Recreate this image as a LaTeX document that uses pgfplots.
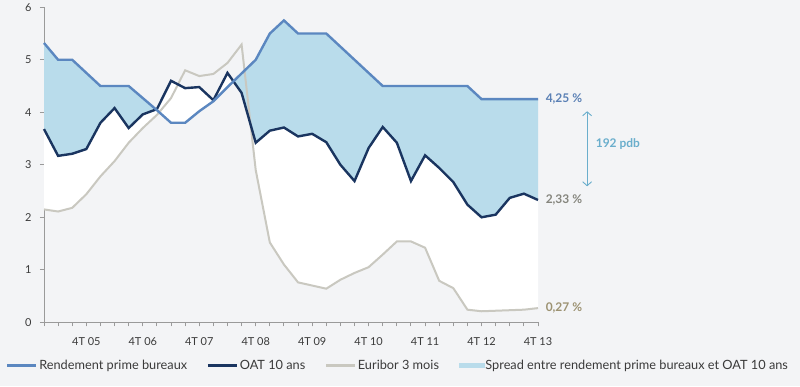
\documentclass[border=0pt]{standalone}
\usepackage{pgfplots}
\pgfplotsset{compat=1.18}
\usepackage{pgfplotstable}
\usepgfplotslibrary{fillbetween}
\usetikzlibrary{arrows.meta}
\usepackage{fontspec}
\setmainfont{Lato}
\definecolor{bgc}{HTML}{F3F4F6}
\definecolor{rendc}{HTML}{5B87C0}
\definecolor{oatc}{HTML}{1A3560}
\definecolor{eurc}{HTML}{C9C8C0}
\definecolor{spreadc}{HTML}{B9DCEB}
\definecolor{axc}{HTML}{9A9A9A}
\definecolor{txtc}{HTML}{3A3A3A}
\definecolor{labA}{HTML}{5A80B5}
\definecolor{labB}{HTML}{85857D}
\definecolor{labC}{HTML}{9C9272}
\definecolor{arrc}{HTML}{6AAECC}
\pagecolor{bgc}

\pgfplotstableread{
idx rend oat eur
0 5.32 3.68 2.15
1 5.00 3.17 2.11
2 5.00 3.21 2.18
3 4.75 3.30 2.44
4 4.50 3.80 2.78
5 4.50 4.08 3.07
6 4.50 3.70 3.42
7 4.27 3.96 3.70
8 4.04 4.06 3.95
9 3.80 4.60 4.27
10 3.80 4.46 4.80
11 4.02 4.48 4.69
12 4.21 4.23 4.73
13 4.48 4.75 4.94
14 4.74 4.37 5.29
15 5.00 3.42 2.90
16 5.50 3.65 1.52
17 5.75 3.71 1.10
18 5.50 3.54 0.76
19 5.50 3.59 0.70
20 5.50 3.43 0.64
21 5.25 3.00 0.81
22 5.00 2.69 0.94
23 4.75 3.32 1.05
24 4.50 3.72 1.29
25 4.50 3.42 1.54
26 4.50 2.69 1.54
27 4.50 3.18 1.42
28 4.50 2.94 0.79
29 4.50 2.67 0.65
30 4.50 2.24 0.24
31 4.25 2.00 0.21
32 4.25 2.05 0.22
33 4.25 2.37 0.23
34 4.25 2.45 0.24
35 4.25 2.33 0.27
}\datatable

\pgfplotsset{
  linelegend/.style={legend image code/.code={\draw[##1,line cap=butt] (0bp,0bp) -- (29bp,0bp);}},
  arealegend/.style={legend image code/.code={\fill[spreadc] (0bp,-2.2bp) rectangle (25bp,2.2bp);}},
}

\begin{document}
\begin{tikzpicture}
\path (0bp,0bp) rectangle (800bp,385bp);
\begin{axis}[
  at={(44bp,64bp)}, anchor=south west,
  scale only axis, width=494bp, height=315bp,
  xmin=0, xmax=35, ymin=0, ymax=6,
  axis x line*=bottom, axis y line*=left,
  x axis line style={axc, line width=1bp},
  y axis line style={axc, line width=1bp},
  xtick style={axc, line width=1bp},
  ytick style={axc, line width=1bp},
  tick align=outside,
  major tick length=4bp, minor tick length=4bp,
  xtick={3,7,...,35},
  xticklabels={4T 05,4T 06,4T 07,4T 08,4T 09,4T 10,4T 11,4T 12,4T 13},
  minor xtick={0,...,35},
  ytick={0,...,6},
  /pgf/number format/assume math mode=true,
  ticklabel style={font=\fontsize{11}{13}\selectfont, text=txtc},
  xticklabel style={yshift=-8bp},
  yticklabel style={xshift=-5bp},
  clip=false,
  legend columns=4,
  legend style={at={(-0.083,-0.1365)}, anchor=west, draw=none, fill=none,
    font=\fontsize{12.8}{14}\selectfont, text=txtc,
    /tikz/every even column/.append style={column sep=18bp},
    nodes={inner sep=1.5bp}},
]
\addplot[name path=rend, draw=none, forget plot] table[x=idx,y=rend]{\datatable};
\addplot[name path=oat, draw=none, forget plot] table[x=idx,y=oat]{\datatable};
\addplot[name path=eur, draw=none, forget plot] table[x=idx,y=eur]{\datatable};
\addplot[white, forget plot] fill between[of=oat and eur, split,
   every segment no 1/.style={fill=bgc}];
\addplot[spreadc, forget plot] fill between[of=rend and oat, split,
   every segment no 1/.style={fill=white}];
\addplot[eurc, line width=2bp, forget plot] table[x=idx,y=eur]{\datatable};
\addplot[oatc, line width=2.4bp, forget plot] table[x=idx,y=oat]{\datatable};
\addplot[rendc, line width=2.4bp, forget plot] table[x=idx,y=rend]{\datatable};

\addlegendimage{linelegend, rendc, line width=2.6bp}
\addlegendentry{Rendement prime bureaux}
\addlegendimage{linelegend, oatc, line width=2.6bp}
\addlegendentry{OAT 10 ans}
\addlegendimage{linelegend, eurc, line width=2.6bp}
\addlegendentry{Euribor 3 mois}
\addlegendimage{arealegend}
\addlegendentry{Spread entre rendement prime bureaux et OAT 10 ans}

\node[anchor=west, text=labA, font=\fontsize{12}{14}\selectfont\bfseries] at (axis cs:35.3,4.25) {4,25 \%};
\node[anchor=west, text=labB, font=\fontsize{12}{14}\selectfont\bfseries] at (axis cs:35.3,2.33) {2,33 \%};
\node[anchor=west, text=labC, font=\fontsize{12}{14}\selectfont\bfseries] at (axis cs:35.3,0.27) {0,27 \%};
\draw[arrc, line width=0.9bp, {Straight Barb[length=4bp,width=9bp]}-{Straight Barb[length=4bp,width=9bp]}] (axis cs:38.48,4.02) -- (axis cs:38.48,2.59);
\node[anchor=west, text=arrc, font=\fontsize{12}{14}\selectfont\bfseries] at (axis cs:38.85,3.39) {192 pdb};
\end{axis}
\end{tikzpicture}
\end{document}
